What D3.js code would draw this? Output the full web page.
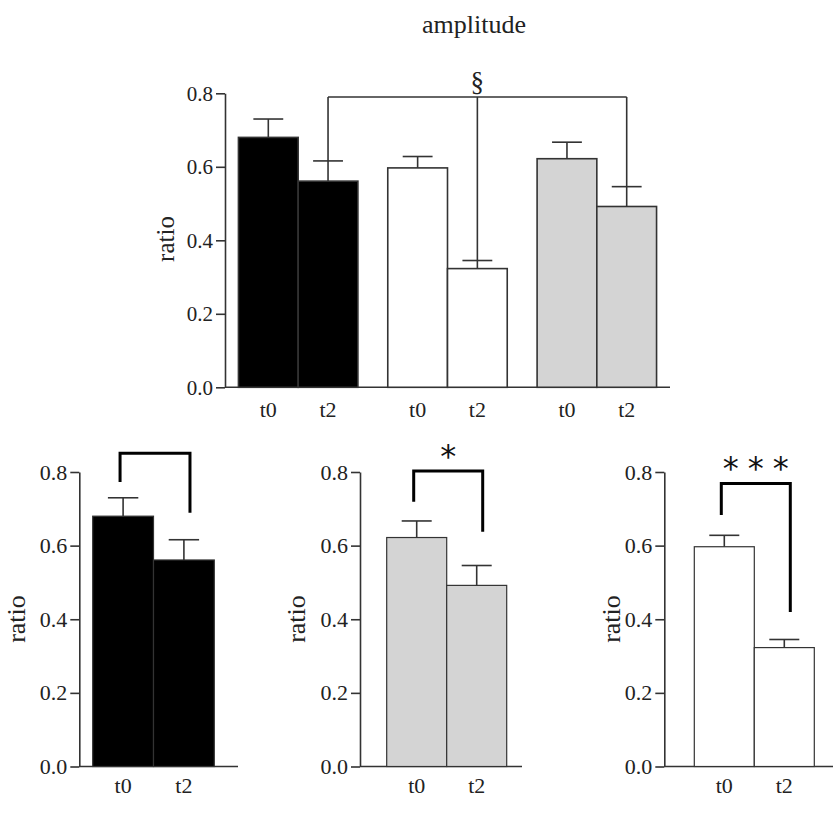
<!DOCTYPE html>
<html>
<head>
<meta charset="utf-8">
<script src="https://cdn.jsdelivr.net/npm/d3@7"></script>
<style>
  body { margin: 0; background: #fff; }
</style>
</head>
<body>
<div id="chart"></div>
<script>
const width = 834;
const height = 839;
const serif = "'Liberation Serif', 'Times New Roman', Times, 'DejaVu Serif', serif";

// data
const times = ["t0", "t2"];
const groups = ["black", "white", "gray"];
const blackMean = [0.680, 0.561];
const blackErr = [0.050, 0.055];
const whiteMean = [0.597, 0.323];
const whiteErr = [0.031, 0.022];
const grayMean = [0.622, 0.492];
const grayErr = [0.045, 0.054];
const yTicks = [0, 0.2, 0.4, 0.6, 0.8];

const means = {black: blackMean, white: whiteMean, gray: grayMean};
const errs = {black: blackErr, white: whiteErr, gray: grayErr};
const fills = {black: "#000", white: "#fff", gray: "#d4d4d4"};

const svg = d3.select("#chart")
  .append("svg")
  .attr("width", width)
  .attr("height", height)
  .attr("font-family", serif);

// title
svg.append("text")
  .attr("x", 474).attr("y", 33)
  .attr("text-anchor", "middle")
  .attr("font-family", serif)
  .attr("font-size", "26px")
  .attr("fill", "#222")
  .text("amplitude");

// y axis + baseline, shared by all panels
function drawAxes(g, y, axisX, axisEnd, fs) {
  g.append("g")
    .attr("transform", `translate(${axisX},0)`)
    .call(d3.axisLeft(y).tickValues(yTicks).tickFormat(d3.format(".1f"))
      .tickSize(9).tickSizeOuter(0).tickPadding(3))
    .attr("font-family", serif)
    .call(a => a.selectAll("path,line").attr("stroke", "#333").attr("stroke-width", 1.6))
    .call(a => a.selectAll("text").attr("font-size", fs + "px").attr("fill", "#222")
      .attr("font-family", serif));
  g.append("line")
    .attr("x1", axisX).attr("x2", axisEnd)
    .attr("y1", y(0)).attr("y2", y(0))
    .attr("stroke", "#333").attr("stroke-width", 1.6);
}

function drawBars(g, x, y, grp, sw) {
  const rows = times.map((t, i) => ({t, m: means[grp][i], e: errs[grp][i]}));
  g.selectAll(null).data(rows).enter().append("rect")
    .attr("x", d => x(d.t))
    .attr("y", d => y(d.m))
    .attr("width", x.bandwidth())
    .attr("height", d => y(0) - y(d.m))
    .attr("fill", fills[grp])
    .attr("stroke", "#333").attr("stroke-width", sw);
  const cx = d => x(d.t) + x.bandwidth() / 2;
  g.selectAll(null).data(rows).enter().append("line")
    .attr("x1", cx).attr("x2", cx)
    .attr("y1", d => y(d.m)).attr("y2", d => y(d.m + d.e))
    .attr("stroke", "#333").attr("stroke-width", 1.6);
  g.selectAll(null).data(rows).enter().append("line")
    .attr("x1", d => cx(d) - x.bandwidth() / 4).attr("x2", d => cx(d) + x.bandwidth() / 4)
    .attr("y1", d => y(d.m + d.e)).attr("y2", d => y(d.m + d.e))
    .attr("stroke", "#333").attr("stroke-width", 1.6);
}

function xLabels(g, x, yPos, fs) {
  g.selectAll(null).data(times).enter().append("text")
    .attr("x", d => x(d) + x.bandwidth() / 2)
    .attr("y", yPos)
    .attr("text-anchor", "middle")
    .attr("font-family", serif)
    .attr("font-size", fs + "px")
    .attr("fill", "#222")
    .text(d => d);
}

// bx = baseline x of the rotated label
function yLabel(g, bx, cy, fs) {
  g.append("text")
    .attr("transform", `translate(${bx},${cy}) rotate(-90)`)
    .attr("text-anchor", "middle")
    .attr("font-family", serif)
    .attr("font-size", fs + "px")
    .attr("fill", "#222")
    .text("ratio");
}

/* ---------- top chart ---------- */
const topG = svg.append("g");
const yTop = d3.scaleLinear().domain([0, 0.8]).range([387.3, 93.3]);
const xGroup = d3.scaleBand().domain(groups).range([225, 670])
  .paddingInner(0.2).paddingOuter(0.09);
const xTime = d3.scaleBand().domain(times).range([0, xGroup.bandwidth()]);

drawAxes(topG, yTop, 225, 670, 21);
groups.forEach(grp => {
  const gg = topG.append("g").attr("transform", `translate(${xGroup(grp)},0)`);
  drawBars(gg, xTime, yTop, grp, 1.6);
  xLabels(gg, xTime, 417, 22);
});
yLabel(topG, 174, 239, 25);

// § bracket joining the t2 bars
const bracketTop = 0.79;
const t2x = grp => xGroup(grp) + xTime("t2") + xTime.bandwidth() / 2;
topG.append("line")
  .attr("x1", t2x("black")).attr("x2", t2x("gray"))
  .attr("y1", yTop(bracketTop)).attr("y2", yTop(bracketTop))
  .attr("stroke", "#333").attr("stroke-width", 1.6);
groups.forEach(grp => {
  topG.append("line")
    .attr("x1", t2x(grp)).attr("x2", t2x(grp))
    .attr("y1", yTop(bracketTop)).attr("y2", yTop(means[grp][1] + errs[grp][1]))
    .attr("stroke", "#333").attr("stroke-width", 1.6);
});
topG.append("text")
  .attr("x", t2x("white")).attr("y", 91)
  .attr("text-anchor", "middle")
  .attr("font-family", serif)
  .attr("font-size", "27px")
  .attr("fill", "#222")
  .text("§");

/* ---------- bottom panels ---------- */
const yBot = d3.scaleLinear().domain([0, 0.8]).range([766.5, 472]);
const panels = [
  {grp: "black", axisX: 79.3, bars: [92.7, 214.3], axisEnd: 238, labX: 25,
   level: 0.851, drops: [0.773, 0.689], mark: []},
  {grp: "gray", axisX: 360, bars: [386.7, 506.7], axisEnd: 522, labX: 305,
   level: 0.803, drops: [0.719, 0.638], mark: ["*"]},
  {grp: "white", axisX: 664.3, bars: [694.3, 814.3], axisEnd: 833, labX: 620,
   level: 0.769, drops: [0.683, 0.42], mark: ["*", "*", "*"]}
];
const bracketFrac = [0.45, 0.6];

panels.forEach(p => {
  const g = svg.append("g");
  const x = d3.scaleBand().domain(times).range(p.bars);
  drawAxes(g, yBot, p.axisX, p.axisEnd, 22);
  drawBars(g, x, yBot, p.grp, 1.2);
  xLabels(g, x, 793, 22);
  yLabel(g, p.labX, 619, 26);

  // significance bracket
  const xs = times.map((t, i) => x(t) + x.bandwidth() * bracketFrac[i]);
  const path = d3.path();
  path.moveTo(xs[0], yBot(p.drops[0]));
  path.lineTo(xs[0], yBot(p.level));
  path.lineTo(xs[1], yBot(p.level));
  path.lineTo(xs[1], yBot(p.drops[1]));
  g.append("path").attr("d", path.toString())
    .attr("fill", "none").attr("stroke", "#000").attr("stroke-width", 3);

  const mid = (xs[0] + xs[1]) / 2;
  g.selectAll(null).data(p.mark).enter().append("text")
    .attr("x", (d, i) => mid + (i - (p.mark.length - 1) / 2) * 25)
    .attr("y", yBot(p.level) - 4)
    .attr("text-anchor", "middle")
    .attr("font-size", "32px")
    .attr("font-family", "'DejaVu Sans', sans-serif")
    .attr("fill", "#111")
    .text(d => d);
});
</script>
</body>
</html>
